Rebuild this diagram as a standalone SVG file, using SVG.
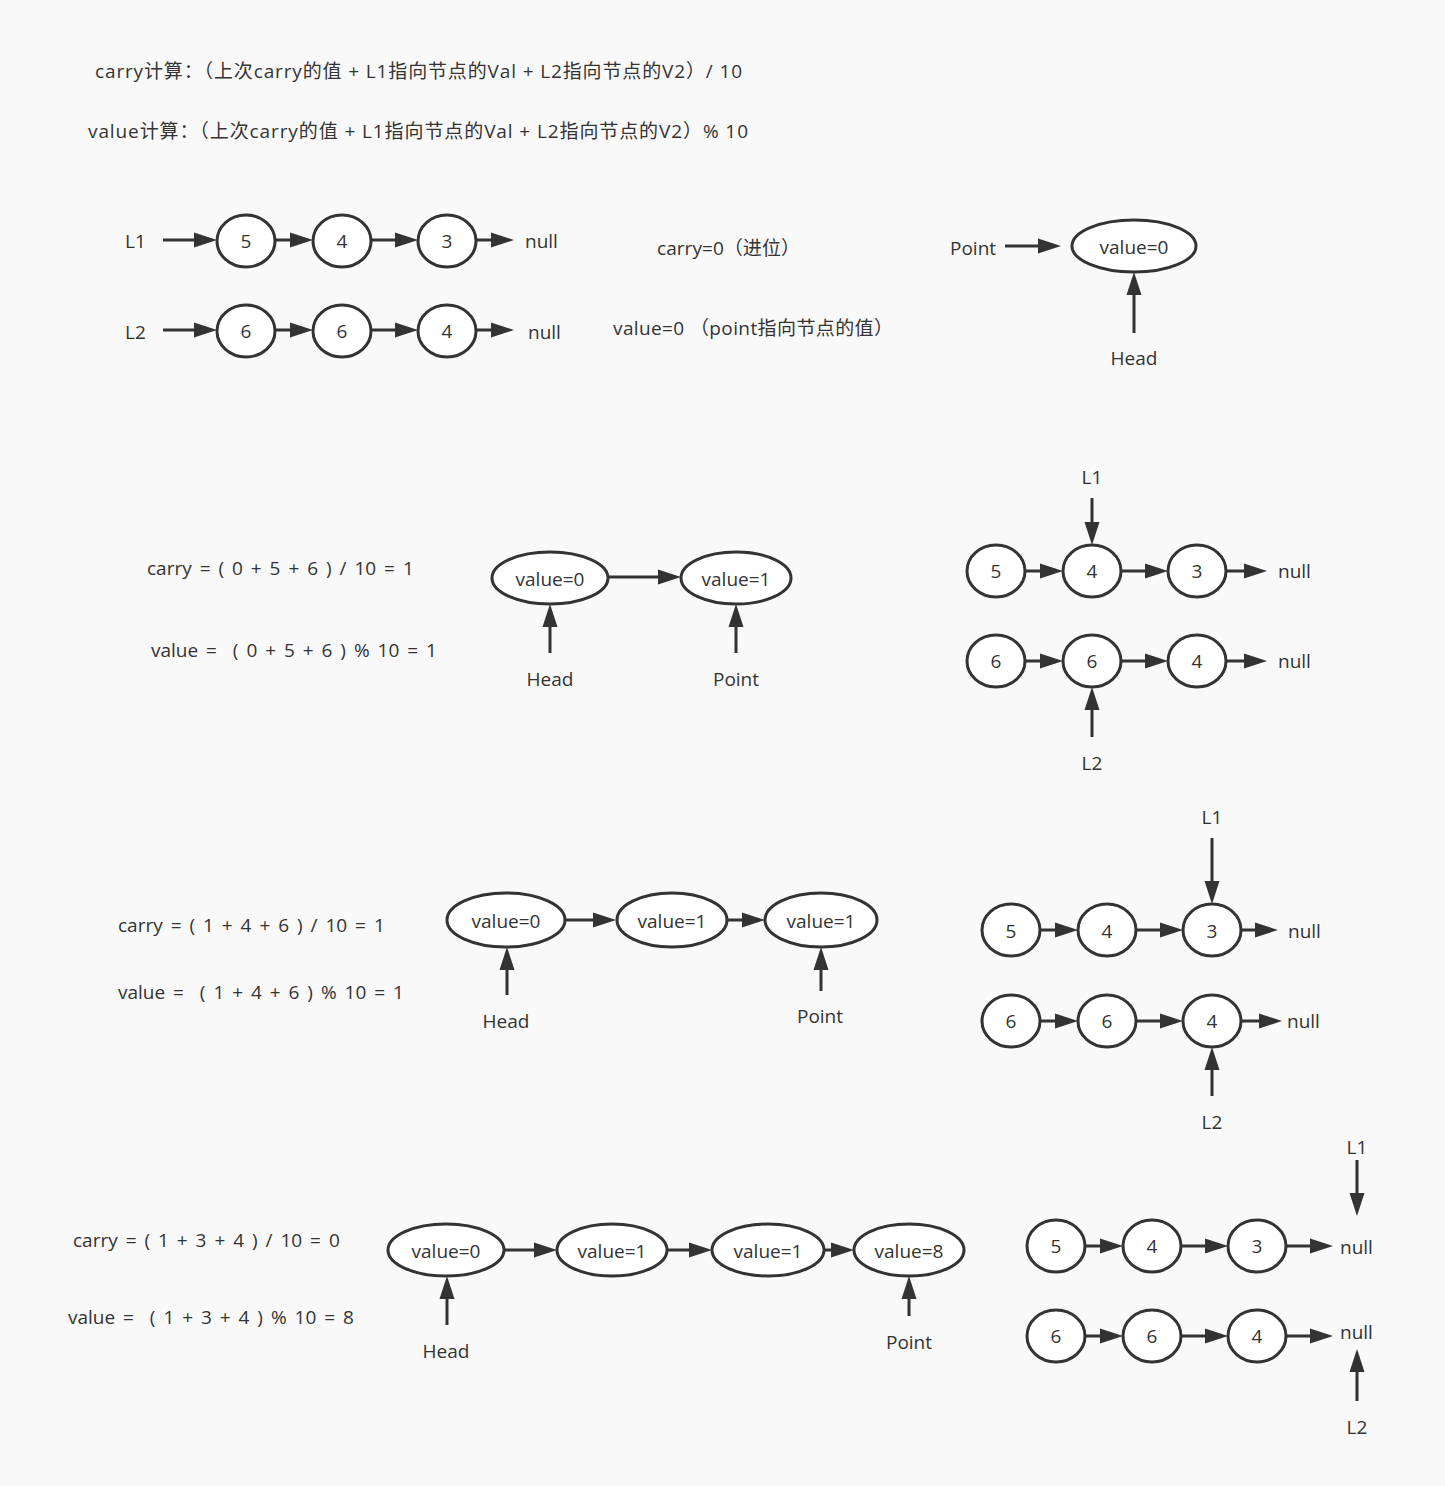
<svg xmlns="http://www.w3.org/2000/svg" width="1445" height="1486" viewBox="0 0 1445 1486">
<defs>
<style>
text{font-family:"Open Sans","Noto Sans CJK SC",sans-serif;font-size:19px;fill:#333;dominant-baseline:central;white-space:pre}
.c{text-anchor:middle}
.f{word-spacing:3px}
ellipse{fill:#fff;stroke:#333;stroke-width:3}
#connectors line{stroke:#333;stroke-width:3;marker-end:url(#ah)}
</style>
<marker id="ah" markerUnits="userSpaceOnUse" markerWidth="24" markerHeight="16" refX="2" refY="7.5" orient="auto" overflow="visible"><path d="M0,0 L23,7.5 L0,15 z" fill="#333"/></marker>
</defs>
<rect width="1445" height="1486" fill="#f9f9f9"/>

<g id="header">
<text x="95" y="71" textLength="647">carry计算：（上次carry的值 + L1指向节点的Val + L2指向节点的V2）/ 10</text>
<text x="88" y="131" textLength="660">value计算：（上次carry的值 + L1指向节点的Val + L2指向节点的V2）% 10</text>
</g>

<g id="connectors">
<line x1="163" y1="240" x2="196" y2="240"/>
<line x1="275" y1="240" x2="292" y2="240"/>
<line x1="371" y1="240" x2="397" y2="240"/>
<line x1="476" y1="240" x2="493" y2="240"/>
<line x1="163" y1="330" x2="196" y2="330"/>
<line x1="275" y1="330" x2="292" y2="330"/>
<line x1="371" y1="330" x2="397" y2="330"/>
<line x1="476" y1="330" x2="493" y2="330"/>
<line x1="1005" y1="246" x2="1040" y2="246"/>
<line x1="1134" y1="333" x2="1134" y2="293"/>

<line x1="608" y1="577" x2="660" y2="577"/>
<line x1="550" y1="653" x2="550" y2="625"/>
<line x1="736" y1="653" x2="736" y2="625"/>
<line x1="1025" y1="571" x2="1042" y2="571"/>
<line x1="1121" y1="571" x2="1147" y2="571"/>
<line x1="1226" y1="571" x2="1246" y2="571"/>
<line x1="1092" y1="498" x2="1092" y2="524"/>
<line x1="1025" y1="661" x2="1042" y2="661"/>
<line x1="1121" y1="661" x2="1147" y2="661"/>
<line x1="1226" y1="661" x2="1246" y2="661"/>
<line x1="1092" y1="737" x2="1092" y2="708"/>

<line x1="565" y1="920" x2="595" y2="920"/>
<line x1="727" y1="920" x2="744" y2="920"/>
<line x1="507" y1="995" x2="507" y2="968"/>
<line x1="821" y1="991" x2="821" y2="968"/>
<line x1="1040" y1="930" x2="1057" y2="930"/>
<line x1="1136" y1="930" x2="1162" y2="930"/>
<line x1="1241" y1="930" x2="1257" y2="930"/>
<line x1="1212" y1="838" x2="1212" y2="883"/>
<line x1="1040" y1="1021" x2="1057" y2="1021"/>
<line x1="1136" y1="1021" x2="1162" y2="1021"/>
<line x1="1241" y1="1021" x2="1261" y2="1021"/>
<line x1="1212" y1="1096" x2="1212" y2="1068"/>

<line x1="504" y1="1250" x2="536" y2="1250"/>
<line x1="667" y1="1250" x2="691" y2="1250"/>
<line x1="824" y1="1250" x2="833" y2="1250"/>
<line x1="447" y1="1325" x2="447" y2="1297"/>
<line x1="909" y1="1316" x2="909" y2="1297"/>
<line x1="1085" y1="1246" x2="1102" y2="1246"/>
<line x1="1181" y1="1246" x2="1207" y2="1246"/>
<line x1="1286" y1="1246" x2="1312" y2="1246"/>
<line x1="1357" y1="1160" x2="1357" y2="1195"/>
<line x1="1085" y1="1336" x2="1102" y2="1336"/>
<line x1="1181" y1="1336" x2="1207" y2="1336"/>
<line x1="1286" y1="1336" x2="1312" y2="1336"/>
<line x1="1357" y1="1401" x2="1357" y2="1370"/>
</g>

<!-- Section 1 -->
<g id="s1-labels">
<text x="125" y="241">L1</text>
<text x="125" y="332">L2</text>
<text x="525" y="241">null</text>
<text x="528" y="332">null</text>
<text x="657" y="248" textLength="143">carry=0（进位）</text>
<text x="613" y="328" textLength="280">value=0 （point指向节点的值）</text>
<text x="950" y="248">Point</text>
<text class="c" x="1134" y="358">Head</text>
</g>
<g id="s1-a1"><ellipse cx="246" cy="241" rx="29" ry="26"/><text class="c" x="246" y="241">5</text></g>
<g id="s1-a2"><ellipse cx="342" cy="241" rx="29" ry="26"/><text class="c" x="342" y="241">4</text></g>
<g id="s1-a3"><ellipse cx="447" cy="241" rx="29" ry="26"/><text class="c" x="447" y="241">3</text></g>
<g id="s1-b1"><ellipse cx="246" cy="331" rx="29" ry="26"/><text class="c" x="246" y="331">6</text></g>
<g id="s1-b2"><ellipse cx="342" cy="331" rx="29" ry="26"/><text class="c" x="342" y="331">6</text></g>
<g id="s1-b3"><ellipse cx="447" cy="331" rx="29" ry="26"/><text class="c" x="447" y="331">4</text></g>
<g id="s1-v0"><ellipse cx="1134" cy="246" rx="62" ry="26"/><text class="c" x="1134" y="247">value=0</text></g>

<!-- Section 2 -->
<g id="s2-labels">
<text class="f" x="147" y="568">carry = ( 0 + 5 + 6 ) / 10 = 1</text>
<text class="f" x="151" y="650">value =  ( 0 + 5 + 6 ) % 10 = 1</text>
<text class="c" x="550" y="679">Head</text>
<text class="c" x="736" y="679">Point</text>
<text class="c" x="1092" y="477">L1</text>
<text class="c" x="1092" y="763">L2</text>
<text x="1278" y="571">null</text>
<text x="1278" y="661">null</text>
</g>
<g id="s2-v0"><ellipse cx="550" cy="578" rx="58" ry="26"/><text class="c" x="550" y="579">value=0</text></g>
<g id="s2-v1"><ellipse cx="736" cy="578" rx="55" ry="26"/><text class="c" x="736" y="579">value=1</text></g>
<g id="s2-a1"><ellipse cx="996" cy="571" rx="29" ry="26"/><text class="c" x="996" y="571">5</text></g>
<g id="s2-a2"><ellipse cx="1092" cy="571" rx="29" ry="26"/><text class="c" x="1092" y="571">4</text></g>
<g id="s2-a3"><ellipse cx="1197" cy="571" rx="29" ry="26"/><text class="c" x="1197" y="571">3</text></g>
<g id="s2-b1"><ellipse cx="996" cy="661" rx="29" ry="26"/><text class="c" x="996" y="661">6</text></g>
<g id="s2-b2"><ellipse cx="1092" cy="661" rx="29" ry="26"/><text class="c" x="1092" y="661">6</text></g>
<g id="s2-b3"><ellipse cx="1197" cy="661" rx="29" ry="26"/><text class="c" x="1197" y="661">4</text></g>

<!-- Section 3 -->
<g id="s3-labels">
<text class="f" x="118" y="925">carry = ( 1 + 4 + 6 ) / 10 = 1</text>
<text class="f" x="118" y="992">value =  ( 1 + 4 + 6 ) % 10 = 1</text>
<text class="c" x="506" y="1021">Head</text>
<text class="c" x="820" y="1016">Point</text>
<text class="c" x="1212" y="817">L1</text>
<text class="c" x="1212" y="1122">L2</text>
<text x="1288" y="931">null</text>
<text x="1287" y="1021">null</text>
</g>
<g id="s3-v0"><ellipse cx="506" cy="920" rx="59" ry="27"/><text class="c" x="506" y="921">value=0</text></g>
<g id="s3-v1"><ellipse cx="672" cy="920" rx="55" ry="27"/><text class="c" x="672" y="921">value=1</text></g>
<g id="s3-v2"><ellipse cx="821" cy="920" rx="56" ry="27"/><text class="c" x="821" y="921">value=1</text></g>
<g id="s3-a1"><ellipse cx="1011" cy="930" rx="29" ry="26"/><text class="c" x="1011" y="931">5</text></g>
<g id="s3-a2"><ellipse cx="1107" cy="930" rx="29" ry="26"/><text class="c" x="1107" y="931">4</text></g>
<g id="s3-a3"><ellipse cx="1212" cy="930" rx="29" ry="26"/><text class="c" x="1212" y="931">3</text></g>
<g id="s3-b1"><ellipse cx="1011" cy="1021" rx="29" ry="26"/><text class="c" x="1011" y="1021">6</text></g>
<g id="s3-b2"><ellipse cx="1107" cy="1021" rx="29" ry="26"/><text class="c" x="1107" y="1021">6</text></g>
<g id="s3-b3"><ellipse cx="1212" cy="1021" rx="29" ry="26"/><text class="c" x="1212" y="1021">4</text></g>

<!-- Section 4 -->
<g id="s4-labels">
<text class="f" x="73" y="1240">carry = ( 1 + 3 + 4 ) / 10 = 0</text>
<text class="f" x="68" y="1317">value =  ( 1 + 3 + 4 ) % 10 = 8</text>
<text class="c" x="446" y="1351">Head</text>
<text class="c" x="909" y="1342">Point</text>
<text class="c" x="1357" y="1147">L1</text>
<text class="c" x="1357" y="1427">L2</text>
<text x="1340" y="1247">null</text>
<text x="1340" y="1332">null</text>
</g>
<g id="s4-v0"><ellipse cx="446" cy="1250" rx="58" ry="26"/><text class="c" x="446" y="1251">value=0</text></g>
<g id="s4-v1"><ellipse cx="612" cy="1250" rx="55" ry="26"/><text class="c" x="612" y="1251">value=1</text></g>
<g id="s4-v2"><ellipse cx="768" cy="1250" rx="56" ry="26"/><text class="c" x="768" y="1251">value=1</text></g>
<g id="s4-v3"><ellipse cx="909" cy="1250" rx="55" ry="26"/><text class="c" x="909" y="1251">value=8</text></g>
<g id="s4-a1"><ellipse cx="1056" cy="1246" rx="29" ry="26"/><text class="c" x="1056" y="1246">5</text></g>
<g id="s4-a2"><ellipse cx="1152" cy="1246" rx="29" ry="26"/><text class="c" x="1152" y="1246">4</text></g>
<g id="s4-a3"><ellipse cx="1257" cy="1246" rx="29" ry="26"/><text class="c" x="1257" y="1246">3</text></g>
<g id="s4-b1"><ellipse cx="1056" cy="1336" rx="29" ry="26"/><text class="c" x="1056" y="1336">6</text></g>
<g id="s4-b2"><ellipse cx="1152" cy="1336" rx="29" ry="26"/><text class="c" x="1152" y="1336">6</text></g>
<g id="s4-b3"><ellipse cx="1257" cy="1336" rx="29" ry="26"/><text class="c" x="1257" y="1336">4</text></g>
</svg>
